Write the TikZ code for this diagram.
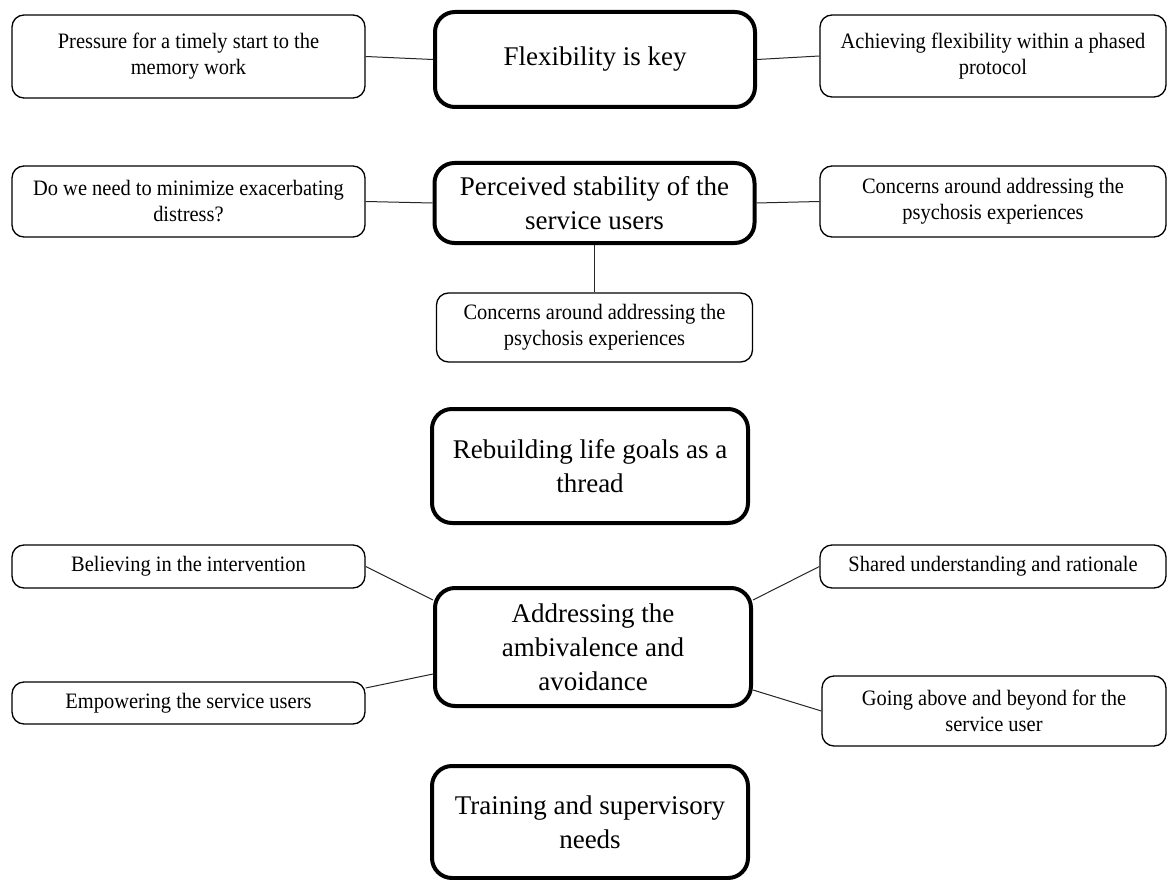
\documentclass[tikz,border=0pt]{standalone}
\usepackage{fontspec}
\setmainfont{Liberation Serif}
\newfontfamily\subfont[FakeStretch=0.93]{Liberation Serif}
\usetikzlibrary{calc}
\tikzset{
  sub/.style={draw=black, line width=1.3pt, rounded corners=12pt, align=center, inner sep=0pt,
    font=\subfont\fontsize{22}{26}\selectfont},
  theme/.style={draw=black, line width=4pt, rounded corners=20pt, align=center, inner sep=0pt,
    font=\fontsize{27}{34}\selectfont},
  link/.style={draw=black!85, line width=1pt}
}
\begin{document}
\begin{tikzpicture}[x=1pt,y=-1pt]
\useasboundingbox (0,0) rectangle (1168,880);
% themes
\node[theme, minimum width=320pt, minimum height=95pt] (flex) at (595,59.5) {Flexibility is key};
\node[theme, minimum width=320pt, minimum height=80pt] (perc) at (594.5,203) {Perceived stability of the\\service users};
\node[theme, minimum width=316pt, minimum height=114pt] (rebuild) at (590,466) {Rebuilding life goals as a\\thread};
\node[theme, minimum width=316pt, minimum height=118pt] (addr) at (593,647) {Addressing the\\ambivalence and\\avoidance};
\node[theme, minimum width=316pt, minimum height=112pt] (train) at (590,822) {Training and supervisory\\needs};
% subthemes
\node[sub, minimum width=353pt, minimum height=83pt] (press) at (188.5,56.5) {Pressure for a timely start to the\\memory work};
\node[sub, minimum width=346pt, minimum height=82pt] (achv) at (993,56) {Achieving flexibility within a phased\\protocol};
\node[sub, minimum width=353pt, minimum height=71pt] (dowe) at (188.5,201.5) {Do we need to minimize exacerbating\\distress?};
\node[sub, minimum width=346pt, minimum height=71pt] (concR) at (993,201.5) {Concerns around addressing the\\psychosis experiences};
\node[sub, minimum width=316pt, minimum height=69pt] (concB) at (594.5,327.5) {Concerns around addressing the\\psychosis experiences};
\node[sub, minimum width=353pt, minimum height=43pt] (believ) at (188.5,566.5) {Believing in the intervention};
\node[sub, minimum width=346pt, minimum height=43pt] (shared) at (993,566.5) {Shared understanding and rationale};
\node[sub, minimum width=353pt, minimum height=42pt] (empow) at (188.5,703) {Empowering the service users};
\node[sub, minimum width=344pt, minimum height=70pt] (going) at (994,711) {Going above and beyond for the\\service user};
% connectors
\draw[link] (press.east) -- (flex.west);
\draw[link] (achv.west) -- (flex.east);
\draw[link] (dowe.east) -- (perc.west);
\draw[link] (concR.west) -- (perc.east);
\draw[link] (perc.south) -- (concB.north);
\draw[link] (believ.east) -- ([yshift=47pt]addr.west);
\draw[link] ([yshift=15pt]empow.east) -- ([yshift=-27pt]addr.west);
\draw[link] (shared.west) -- ([yshift=47pt]addr.east);
\draw[link] (going.west) -- ([yshift=-43pt]addr.east);
\end{tikzpicture}
\end{document}
